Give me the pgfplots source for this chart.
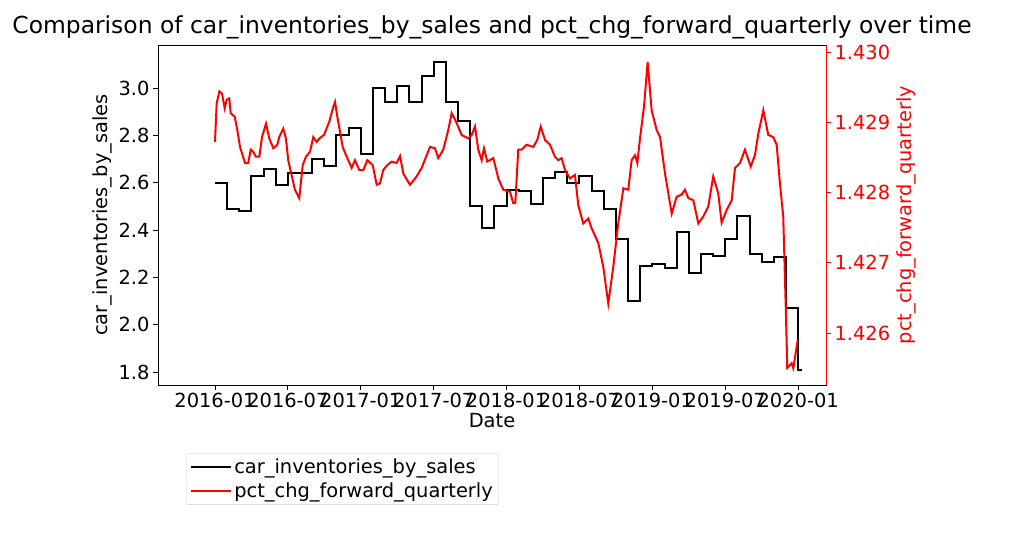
\documentclass[border=0pt]{standalone}
\usepackage{pgfplots}
\pgfplotsset{compat=1.18}
\usepackage{fontspec}
\setmainfont{DejaVu Sans}
\begin{document}
\begin{tikzpicture}
\path (-158bp,-149bp) rectangle (854bp,385bp);
\pgfplotsset{every axis/.append style={scale only axis, width=668bp, height=340bp,
  xmin=-4.69, xmax=50.29, font=\fontsize{19.5}{23}\selectfont,
  /pgf/number format/assume math mode=true, tick align=outside,
  major tick length=5bp, every tick/.style={line width=0.8bp}}}
\begin{axis}[
  ymin=1.745, ymax=3.182,
  axis line style={line width=0.8bp},
  ytick pos=left, xtick pos=bottom,
  xtick={0,6,12,18,24,30,36,42,48},
  xticklabels={2016-01,2016-07,2017-01,2017-07,2018-01,2018-07,2019-01,2019-07,2020-01},
  ytick={1.8,2.0,2.2,2.4,2.6,2.8,3.0},
  yticklabel style={/pgf/number format/.cd,fixed,fixed zerofill,precision=1},
  xlabel={Date}, ylabel={car\_inventories\_by\_sales},
  xlabel style={yshift=2bp},
  title={Comparison of car\_inventories\_by\_sales and pct\_chg\_forward\_quarterly over time},
  title style={font=\fontsize{23.5}{27}\selectfont, yshift=-4bp},
  legend style={at={(0.042,-0.2)}, anchor=north west, draw=black!20, rounded corners=2bp,
    font=\fontsize{19.5}{23}\selectfont, row sep=3bp, inner sep=4bp},
  legend cell align=left,
  legend image code/.code={\draw[#1] (0bp,0bp) -- (40bp,0bp);},
]
\addplot[black, line width=2bp, const plot, forget plot] coordinates {
(0,2.60)(1,2.49)(2,2.48)(3,2.63)(4,2.66)(5,2.59)(6,2.64)(7,2.64)(8,2.70)(9,2.67)
(10,2.80)(11,2.83)(12,2.72)(13,3.00)(14,2.94)(15,3.01)(16,2.94)(17,3.05)(18,3.11)(19,2.94)
(20,2.86)(21,2.50)(22,2.41)(23,2.50)(24,2.57)(25,2.565)(26,2.51)(27,2.62)(28,2.645)(29,2.60)
(30,2.63)(31,2.565)(32,2.49)(33,2.36)(34,2.10)(35,2.25)(36,2.255)(37,2.24)(38,2.39)(39,2.22)
(40,2.30)(41,2.29)(42,2.36)(43,2.46)(44,2.30)(45,2.265)(46,2.285)(47,2.07)(48,1.81)(48.3,1.81)};
\addlegendimage{black, line width=2bp}
\addlegendentry{car\_inventories\_by\_sales}
\addlegendimage{red, line width=2bp}
\addlegendentry{pct\_chg\_forward\_quarterly}
\end{axis}
\begin{axis}[
  ymin=1.42526, ymax=1.4301,
  axis y line*=right, axis x line=none,
  ytick={1.426,1.427,1.428,1.429,1.430},
  yticklabel style={red,/pgf/number format/.cd,fixed,fixed zerofill,precision=3},
  y axis line style={red, line width=0.8bp}, ytick style={red},
  ylabel={pct\_chg\_forward\_quarterly}, ylabel style={red},
]
\addplot[red, line width=2bp] coordinates {
(0,1.42872)(0.14,1.42927)(0.36,1.42944)(0.58,1.42941)(0.80,1.42920)(0.96,1.42932)(1.18,1.42934)
(1.29,1.42913)(1.62,1.42908)(1.84,1.42889)(2.06,1.42865)(2.47,1.42842)(2.74,1.42842)(2.94,1.42861)
(3.15,1.42858)(3.37,1.42851)(3.65,1.42851)(3.87,1.42879)(4.20,1.42898)(4.47,1.42877)(4.80,1.42863)
(5.13,1.42868)(5.29,1.42879)(5.62,1.42891)(5.84,1.42877)(6.03,1.42846)(6.58,1.42804)(6.94,1.42792)
(7.22,1.42839)(7.49,1.42851)(7.82,1.42858)(8.09,1.42879)(8.37,1.42872)(8.59,1.42877)(8.97,1.42882)
(9.41,1.42901)(9.74,1.42922)(9.88,1.42929)(10.07,1.42908)(10.51,1.42865)(10.84,1.42851)(11.25,1.42835)
(11.52,1.42846)(11.88,1.42832)(12.21,1.42832)(12.54,1.42846)(12.98,1.42839)(13.31,1.42811)(13.58,1.42813)
(13.85,1.42832)(14.18,1.42839)(14.54,1.42844)(14.95,1.42842)(15.23,1.42852)(15.50,1.42827)(16.05,1.42811)
(16.60,1.42823)(17.01,1.42835)(17.70,1.42865)(18.11,1.42863)(18.38,1.42849)(18.79,1.42861)(19.20,1.42889)
(19.48,1.42913)(19.84,1.42901)(20.30,1.42882)(20.85,1.42877)(21.13,1.42882)(21.40,1.42894)(21.67,1.42861)
(21.95,1.42846)(22.14,1.42863)(22.41,1.42844)(22.91,1.42849)(23.32,1.42820)(23.73,1.42804)(24.28,1.42801)
(24.55,1.42785)(24.72,1.42785)(24.96,1.42861)(25.24,1.42861)(25.65,1.42868)(26.20,1.42865)(26.53,1.42875)
(26.81,1.42894)(27.16,1.42875)(27.57,1.42868)(27.98,1.42851)(28.26,1.42846)(28.53,1.42849)(28.81,1.42832)
(29.22,1.42820)(29.63,1.42825)(29.90,1.42782)(30.31,1.42756)(30.73,1.42763)(31.00,1.42749)(31.55,1.42728)
(31.96,1.42694)(32.37,1.42642)(32.78,1.42694)(33.19,1.42756)(33.61,1.42806)(34.02,1.42804)(34.29,1.42846)
(34.57,1.42853)(34.76,1.42842)(34.98,1.42877)(35.31,1.42922)(35.61,1.42986)(35.94,1.42917)(36.35,1.42889)
(36.63,1.42879)(37.04,1.42827)(37.59,1.42770)(38.00,1.42794)(38.41,1.42797)(38.68,1.42804)(38.96,1.42792)
(39.37,1.42789)(39.78,1.42756)(40.19,1.42766)(40.60,1.42780)(41.01,1.42823)(41.42,1.42799)(41.70,1.42757)
(42.11,1.42775)(42.53,1.42789)(42.80,1.42835)(43.21,1.42842)(43.62,1.42861)(44.09,1.42837)(44.44,1.42853)
(44.72,1.42884)(45.13,1.42917)(45.54,1.42882)(45.95,1.42879)(46.23,1.42868)(46.50,1.42813)(46.77,1.42766)
(47.00,1.42623)(47.10,1.42550)(47.46,1.42557)(47.60,1.42550)(47.96,1.42590)};
\end{axis}
\end{tikzpicture}
\end{document}
